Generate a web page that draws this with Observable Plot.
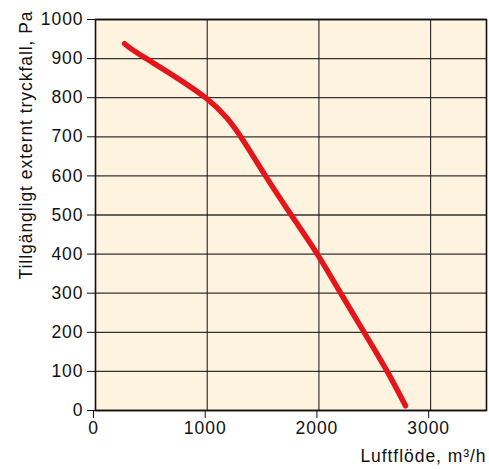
<!DOCTYPE html>
<html>
<head>
<meta charset="utf-8">
<script src="https://cdn.jsdelivr.net/npm/d3@7"></script>
<script src="https://cdn.jsdelivr.net/npm/@observablehq/plot@0.6"></script>
<style>
  html, body { margin: 0; padding: 0; background: #fff; }
  svg { display: block; }
  svg text { letter-spacing: 0.95px; }
</style>
</head>
<body>
<div id="chart"></div>
<script>
const flow = [260, 448, 985, 1300, 1522, 1752, 1985, 2195, 2405, 2611, 2775];
const pressure = [938, 901, 800, 700, 600, 500, 400, 300, 200, 100, 12];
const xTicks = [0, 1000, 2000, 3000];
const yTicks = [0, 100, 200, 300, 400, 500, 600, 700, 800, 900, 1000];
const xLabel = "Luftflöde, m³/h";
const yLabel = "Tillgängligt externt tryckfall, Pa";

const data = flow.map((f, i) => ({flow: f, pressure: pressure[i]}));

const chart = Plot.plot({
  width: 489,
  height: 469,
  marginLeft: 95,
  marginRight: 3,
  marginTop: 19,
  marginBottom: 59,
  style: {fontFamily: "'Liberation Sans', Arial, sans-serif", fontSize: "17.5px", color: "#111", background: "#fff"},
  x: {domain: [0, 3500]},
  y: {domain: [0, 1000]},
  marks: [
    Plot.frame({fill: "#fdf3df", stroke: "none"}),
    Plot.gridY(yTicks, {stroke: "#333", strokeOpacity: 1, strokeWidth: 1.3}),
    Plot.gridX(xTicks, {stroke: "#111", strokeOpacity: 1, strokeWidth: 1}),
    Plot.frame({stroke: "#111", strokeWidth: 1.6}),
    Plot.line(data, {x: "flow", y: "pressure", stroke: "#e4161b", strokeWidth: 5.5, curve: "natural", strokeLinecap: "round"}),
    Plot.axisX({ticks: xTicks, tickSize: 8, tickPadding: 3, tickFormat: d => String(d), label: xLabel, labelAnchor: "right", labelArrow: "none", labelOffset: 51, dx: -2}),
    Plot.axisY({ticks: yTicks, tickSize: 8, tickPadding: 4, tickFormat: d => String(d), label: null}),
    Plot.text([yLabel], {frameAnchor: "top-left", text: d => d, rotate: -90, textAnchor: "end", dx: -76, dy: -9, fontSize: 17.5, fill: "#111"})
  ]
});
document.getElementById("chart").appendChild(chart);
</script>
</body>
</html>
